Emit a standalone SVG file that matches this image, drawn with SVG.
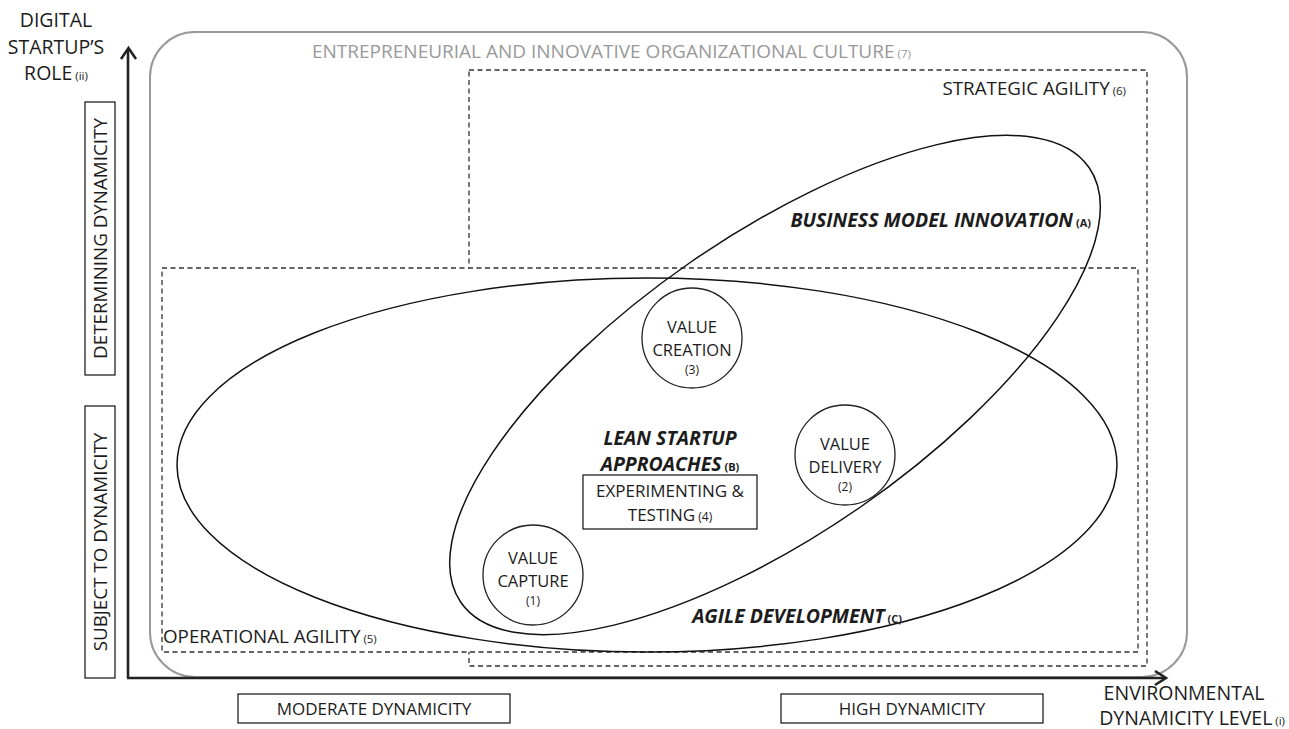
<svg xmlns="http://www.w3.org/2000/svg" width="1289" height="729" viewBox="0 0 1289 729">
<style>
text { font-family: "Open Sans", "Liberation Sans", sans-serif; fill:#1c1c1c; }
.t { font-size:18.8px; }
.a { font-size:19.5px; }
.c { font-size:16.5px; }
.x { font-size:17px; }
.s { font-size:11.5px; }
.n { font-size:12px; }
.bi { font-size:19.5px; font-weight:bold; font-style:italic; }
.sb { font-size:11px; font-weight:bold; font-style:normal; }
.dash { stroke:#333; stroke-width:1.3; stroke-dasharray:5 3.5; }
.ell { fill:none; stroke:#111; stroke-width:1.5; }
.box { fill:#fff; stroke:#222; stroke-width:1.3; }
.axis { fill:none; stroke:#222; stroke-width:2.6; }
</style>

<g id="culture">
  <rect x="150" y="32" width="1037" height="645" rx="45" ry="45" fill="none" stroke="#999" stroke-width="2"/>
  <text x="312" y="58" style="font-size:19px; fill:#999">ENTREPRENEURIAL AND INNOVATIVE ORGANIZATIONAL CULTURE<tspan class="s" style="fill:#999"> (7)</tspan></text>
</g>

<g id="strategic-agility">
  <rect x="469" y="70" width="678" height="596" class="dash" fill="none"/>
  <text x="1126" y="95" class="t" text-anchor="end">STRATEGIC AGILITY<tspan class="s"> (6)</tspan></text>
</g>

<g id="operational-agility">
  <rect x="162" y="268" width="976" height="384" class="dash" fill="#fff"/>
  <text x="163" y="643" class="t">OPERATIONAL AGILITY<tspan class="s"> (5)</tspan></text>
</g>

<g id="agile-development">
  <ellipse cx="647" cy="465" rx="470" ry="187" class="ell"/>
  <text x="902" y="623" class="bi" text-anchor="end">AGILE DEVELOPMENT<tspan class="sb"> (C)</tspan></text>
</g>

<g id="business-model-innovation">
  <ellipse cx="775" cy="385" rx="382" ry="149" class="ell" transform="rotate(-34.7 775 385)"/>
  <text x="1091" y="227" class="bi" text-anchor="end">BUSINESS MODEL INNOVATION<tspan class="sb"> (A)</tspan></text>
</g>

<g id="lean-startup">
  <text x="670" y="445" class="bi" text-anchor="middle">LEAN STARTUP</text>
  <text x="670" y="471" class="bi" text-anchor="middle">APPROACHES<tspan class="sb"> (B)</tspan></text>
</g>

<g id="experimenting-testing">
  <rect x="583" y="475" width="174" height="54" class="box"/>
  <text x="670" y="497" class="x" text-anchor="middle">EXPERIMENTING &amp;</text>
  <text x="670" y="521" class="x" text-anchor="middle">TESTING<tspan class="n"> (4)</tspan></text>
</g>

<g id="value-creation">
  <circle cx="692" cy="338" r="50" class="box"/>
  <text x="692" y="333" class="c" text-anchor="middle">VALUE</text>
  <text x="692" y="356" class="c" text-anchor="middle">CREATION</text>
  <text x="692" y="374" class="n" text-anchor="middle">(3)</text>
</g>

<g id="value-delivery">
  <circle cx="845" cy="455" r="50" class="box"/>
  <text x="845" y="450" class="c" text-anchor="middle">VALUE</text>
  <text x="845" y="473" class="c" text-anchor="middle">DELIVERY</text>
  <text x="845" y="491" class="n" text-anchor="middle">(2)</text>
</g>

<g id="value-capture">
  <circle cx="533" cy="575" r="50" class="box"/>
  <text x="533" y="564" class="c" text-anchor="middle">VALUE</text>
  <text x="533" y="587" class="c" text-anchor="middle">CAPTURE</text>
  <text x="533" y="605" class="n" text-anchor="middle">(1)</text>
</g>

<g id="connectors">
  <line x1="128" y1="678" x2="128" y2="49" class="axis"/>
  <polyline points="121,59 128.5,48 136,59" class="axis"/>
  <line x1="127" y1="678" x2="1165" y2="678" class="axis"/>
  <polyline points="1155,671 1166,678 1155,685" class="axis"/>
</g>

<g id="y-axis-label">
  <text x="56" y="27" class="a" text-anchor="middle">DIGITAL</text>
  <text x="56" y="54" class="a" text-anchor="middle">STARTUP’S</text>
  <text x="56" y="80" class="a" text-anchor="middle">ROLE<tspan class="s"> (ii)</tspan></text>
</g>

<g id="determining-dynamicity">
  <rect x="85" y="102" width="30" height="273" class="box"/>
  <text transform="translate(106.5 238.5) rotate(-90)" class="t" text-anchor="middle">DETERMINING DYNAMICITY</text>
</g>

<g id="subject-to-dynamicity">
  <rect x="85" y="406" width="30" height="272" class="box"/>
  <text transform="translate(106.5 542) rotate(-90)" class="t" text-anchor="middle">SUBJECT TO DYNAMICITY</text>
</g>

<g id="moderate-dynamicity">
  <rect x="238" y="694" width="272" height="29" class="box"/>
  <text x="374" y="715" class="x" text-anchor="middle">MODERATE DYNAMICITY</text>
</g>

<g id="high-dynamicity">
  <rect x="781" y="694" width="262" height="29" class="box"/>
  <text x="912" y="715" class="x" text-anchor="middle">HIGH DYNAMICITY</text>
</g>

<g id="x-axis-label">
  <text x="1184" y="700" class="a" text-anchor="middle">ENVIRONMENTAL</text>
  <text x="1285" y="725" class="a" text-anchor="end">DYNAMICITY LEVEL<tspan class="s"> (i)</tspan></text>
</g>
</svg>
